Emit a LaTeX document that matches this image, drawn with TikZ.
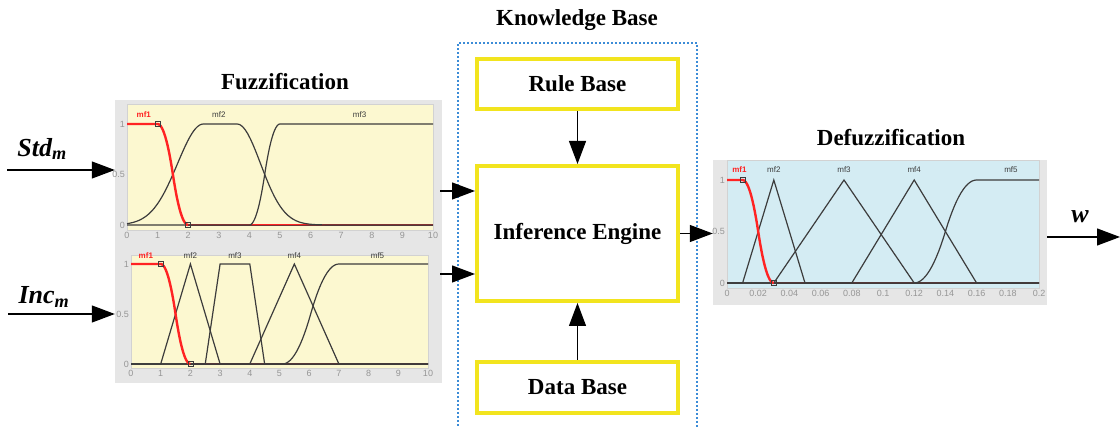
\documentclass[tikz,border=0pt]{standalone}
\usepackage{fontspec}
\setmainfont{Liberation Serif}
\newfontfamily\plotfont{Liberation Sans}
\usetikzlibrary{arrows.meta,positioning}

\definecolor{kbyellow}{RGB}{242,228,30}
\definecolor{kbblue}{RGB}{60,140,215}
\definecolor{inyellow}{RGB}{252,248,208}
\definecolor{outblue}{RGB}{212,236,243}
\definecolor{framegray}{RGB}{230,230,230}
\definecolor{tickgray}{RGB}{150,150,150}
\definecolor{mfred}{RGB}{255,35,35}
\definecolor{mfdark}{RGB}{60,60,60}

\begin{document}
\begin{tikzpicture}[
    x=1pt, y=1pt,
    block/.style={draw=kbyellow, line width=4pt, minimum width=201pt,
        font=\fontsize{23}{27}\selectfont\bfseries},
    title/.style={font=\fontsize{23}{27}\selectfont\bfseries},
    flow/.style={line width=1.2pt, -{Triangle[length=23pt,width=17pt]}},
    panel/.style={fill=framegray, inner sep=0pt},
    mfline/.style={mfdark, line width=1.2pt},
    mfone/.style={mfred, line width=2.4pt},
    mflabel/.style={font=\plotfont\fontsize{8}{9}\selectfont, text=mfdark, inner sep=0pt},
    ticklabel/.style={font=\plotfont\fontsize{9}{10}\selectfont, text=tickgray, inner sep=2pt},
    marker/.style={mfdark, line width=0.6pt},
    varlabel/.style={font=\fontsize{26}{30}\selectfont\bfseries\itshape}
    ]
\useasboundingbox (0,0) rectangle (1120,428);

% knowledge base
\node[title] (kbtitle) at (577,408) {Knowledge Base};
\draw[kbblue, line width=1.4pt, dash pattern=on 2pt off 2pt]
    (458,-2) -- (458,385) -- (697,385) -- (697,-2);

\node[block, minimum height=50pt] (rule) at (577.5,344) {Rule Base};
\node[block, minimum height=135pt] (engine) at (577.5,194.5) {Inference Engine};
\node[block, minimum height=51pt] (data) at (577.5,40.5) {Data Base};

\draw[flow] (rule.south) -- (engine.north);
\draw[flow] (data.north) -- (engine.south);

% panels
\node[panel, minimum width=327pt, minimum height=147pt] (fuzzstd) at (278.5,254.5) {};
\node[panel, minimum width=327pt, minimum height=136pt] (fuzzinc) at (278.5,113) {};
\node[panel, minimum width=334pt, minimum height=145pt] (defuzz) at (880,195.5) {};

\node[title] (fuzztitle) at (285,346) {Fuzzification};
\node[title] (defuzztitle) at (891,290) {Defuzzification};

% Std_m plot
\begin{scope}[shift={(127,203)}, x=30.6pt, y=101pt]
\fill[inyellow] (0,-0.05) rectangle (10,1.2);
\draw[gray!35, line width=0.4pt] (0,-0.05) rectangle (10,1.2);
\foreach \i in {0,...,10}
    \node[ticklabel, below] at (\i,-0.05) {\i};
\node[ticklabel, left] at (0,1) {1};
\node[ticklabel, left] at (0,0.5) {0.5};
\node[ticklabel, left] at (0,0) {0};
\draw[mfone] (2,0) -- (10,0);
\draw[mfline] plot[domain=0:2.5, samples=40] (\x,{exp(-(\x-2.5)^2/1.445)})
    -- (3.6,1) -- plot[domain=3.6:7, samples=40] (\x,{exp(-(\x-3.6)^2/1.17)}) -- (10,0);
\draw[mfline] (0,0) -- (4,0) -- plot[domain=4:4.5, samples=15] (\x,{2*(\x-4)^2})
    -- plot[domain=4.5:5, samples=15] (\x,{1-2*(\x-5)^2}) -- (10,1);
\draw[mfone] (0,1) -- (1,1) -- plot[domain=1:1.5, samples=15] (\x,{1-2*(\x-1)^2})
    -- plot[domain=1.5:2, samples=15] (\x,{2*(\x-2)^2});
\draw[mfdark, line width=0.5pt, opacity=0.7] (2,0) -- (10,0);
\draw[marker] (1,1) +(-2.5pt,-2.5pt) rectangle +(2.5pt,2.5pt);
\draw[marker] (2,0) +(-2.5pt,-2.5pt) rectangle +(2.5pt,2.5pt);
\node[mflabel, text=mfred] at (0.55,1.09) {\bfseries mf1};
\node[mflabel] at (3,1.09) {mf2};
\node[mflabel] at (7.6,1.09) {mf3};
\end{scope}

% Inc_m plot
\begin{scope}[shift={(131,64)}, x=29.7pt, y=100pt]
\fill[inyellow] (0,-0.04) rectangle (10,1.09);
\draw[gray!35, line width=0.4pt] (0,-0.04) rectangle (10,1.09);
\foreach \i in {0,...,10}
    \node[ticklabel, below] at (\i,-0.04) {\i};
\node[ticklabel, left] at (0,1) {1};
\node[ticklabel, left] at (0,0.5) {0.5};
\node[ticklabel, left] at (0,0) {0};
\draw[mfone] (2,0) -- (10,0);
\draw[mfline] (0,0) -- (1,0) -- (2,1) -- (3,0) -- (10,0);
\draw[mfline] (0,0) -- (2.5,0) -- (3,1) -- (4,1) -- (4.5,0) -- (10,0);
\draw[mfline] (0,0) -- (4,0) -- (5.5,1) -- (7,0) -- (10,0);
\draw[mfline] (0,0) -- (5.1,0) -- plot[domain=5.1:6.05, samples=15] (\x,{2*((\x-5.1)/1.9)^2})
    -- plot[domain=6.05:7, samples=15] (\x,{1-2*((\x-7)/1.9)^2}) -- (10,1);
\draw[mfone] (0,1) -- (1,1) -- plot[domain=1:1.5, samples=15] (\x,{1-2*(\x-1)^2})
    -- plot[domain=1.5:2, samples=15] (\x,{2*(\x-2)^2});
\draw[mfdark, line width=0.5pt, opacity=0.7] (2,0) -- (10,0);
\draw[marker] (1,1) +(-2.5pt,-2.5pt) rectangle +(2.5pt,2.5pt);
\draw[marker] (2,0) +(-2.5pt,-2.5pt) rectangle +(2.5pt,2.5pt);
\node[mflabel, text=mfred] at (0.5,1.08) {\bfseries mf1};
\node[mflabel] at (2,1.08) {mf2};
\node[mflabel] at (3.5,1.08) {mf3};
\node[mflabel] at (5.5,1.08) {mf4};
\node[mflabel] at (8.3,1.08) {mf5};
\end{scope}

% w plot
\begin{scope}[shift={(727,145)}, x=15.6pt, y=103pt]
\fill[outblue] (0,-0.05) rectangle (20,1.19);
\draw[gray!35, line width=0.4pt] (0,-0.05) rectangle (20,1.19);
\foreach \i/\t in {0/0,2/0.02,4/0.04,6/0.06,8/0.08,10/0.1,12/0.12,14/0.14,16/0.16,18/0.18,20/0.2}
    \node[ticklabel, below] at (\i,-0.05) {\t};
\node[ticklabel, left] at (0,1) {1};
\node[ticklabel, left] at (0,0.5) {0.5};
\node[ticklabel, left] at (0,0) {0};
\draw[mfone] (3,0) -- (20,0);
\draw[mfline] (0,0) -- (1,0) -- (3,1) -- (5,0) -- (20,0);
\draw[mfline] (0,0) -- (3,0) -- (7.5,1) -- (12,0) -- (20,0);
\draw[mfline] (0,0) -- (8,0) -- (12,1) -- (16,0) -- (20,0);
\draw[mfline] (0,0) -- (12,0) -- plot[domain=12:14, samples=15] (\x,{2*((\x-12)/4)^2})
    -- plot[domain=14:16, samples=15] (\x,{1-2*((\x-16)/4)^2}) -- (20,1);
\draw[mfone] (0,1) -- (1,1) -- plot[domain=1:2, samples=15] (\x,{1-2*((\x-1)/2)^2})
    -- plot[domain=2:3, samples=15] (\x,{2*((\x-3)/2)^2});
\draw[mfdark, line width=0.5pt, opacity=0.7] (3,0) -- (20,0);
\draw[marker] (1,1) +(-2.5pt,-2.5pt) rectangle +(2.5pt,2.5pt);
\draw[marker] (3,0) +(-2.5pt,-2.5pt) rectangle +(2.5pt,2.5pt);
\node[mflabel, text=mfred] at (0.8,1.1) {\bfseries mf1};
\node[mflabel] at (3,1.1) {mf2};
\node[mflabel] at (7.5,1.1) {mf3};
\node[mflabel] at (12,1.1) {mf4};
\node[mflabel] at (18.2,1.1) {mf5};
\end{scope}

% inputs and output
\coordinate (stdin) at (7,258);
\coordinate (incin) at (8,114);
\coordinate (wout) at (1120,191);
\node[varlabel] (stdlabel) at (42,279) {Std\textsubscript{m}};
\node[varlabel] (inclabel) at (44,131) {Inc\textsubscript{m}};
\node[varlabel] (wlabel) at (1080,211) {w};

\draw[flow] (stdin) -- (stdin -| fuzzstd.west);
\draw[flow] (incin) -- (incin -| fuzzinc.west);
\coordinate (stdout) at (440,237);
\coordinate (incout) at (440,154);
\draw[flow] (stdout) -- (stdout -| engine.west);
\draw[flow] (incout) -- (incout -| engine.west);
\draw[flow] (engine.east) -- (engine.east -| defuzz.west);
\draw[flow] (defuzz.east |- wout) -- (wout);

\end{tikzpicture}
\end{document}
